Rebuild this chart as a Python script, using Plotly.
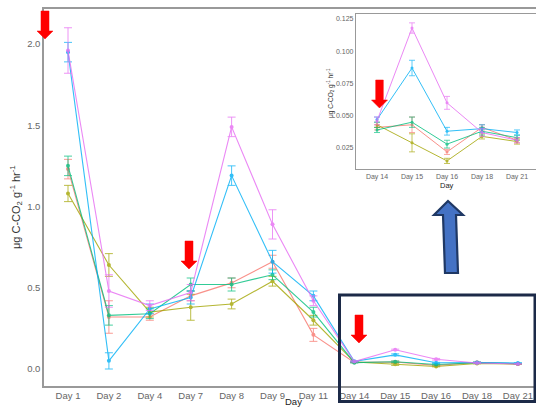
import plotly.graph_objects as go

W, H = 536, 407

days = ["Day 1", "Day 2", "Day 4", "Day 7", "Day 8", "Day 9", "Day 11",
        "Day 14", "Day 15", "Day 16", "Day 18", "Day 21"]

red_vals = [1.23, 0.32, 0.32, 0.45, 0.53, 0.66, 0.21, 0.041, 0.043, 0.022, 0.041, 0.031]
olive_vals = [1.08, 0.64, 0.35, 0.38, 0.40, 0.54, 0.30, 0.043, 0.029, 0.015, 0.034, 0.030]
green_vals = [1.25, 0.33, 0.34, 0.52, 0.52, 0.58, 0.35, 0.039, 0.045, 0.028, 0.038, 0.033]
blue_vals = [1.95, 0.05, 0.37, 0.44, 1.19, 0.66, 0.45, 0.047, 0.087, 0.038, 0.040, 0.037]
pink_vals = [1.96, 0.48, 0.39, 0.47, 1.49, 0.89, 0.42, 0.046, 0.118, 0.060, 0.037, 0.031]

red_err = [0.06, 0.10, 0.02, 0.03, 0.03, 0.04, 0.04, 0.002, 0.006, 0.002, 0.002, 0.002]
olive_err = [0.05, 0.07, 0.03, 0.08, 0.03, 0.03, 0.03, 0.002, 0.007, 0.002, 0.002, 0.002]
green_err = [0.06, 0.06, 0.03, 0.04, 0.04, 0.03, 0.03, 0.002, 0.004, 0.003, 0.003, 0.002]
blue_err = [0.06, 0.05, 0.03, 0.04, 0.06, 0.07, 0.03, 0.002, 0.006, 0.003, 0.003, 0.002]
pink_err = [0.14, 0.10, 0.03, 0.05, 0.06, 0.09, 0.03, 0.003, 0.004, 0.005, 0.003, 0.002]

series = [
    ("red", red_vals, red_err, "#F8766D"),
    ("olive", olive_vals, olive_err, "#A3A500"),
    ("green", green_vals, green_err, "#00BF7D"),
    ("blue", blue_vals, blue_err, "#00B0F6"),
    ("pink", pink_vals, pink_err, "#E76BF3"),
]

inset_start = days.index("Day 14")

fig = go.Figure()
for name, vals, err, col in series:
    fig.add_trace(go.Scatter(
        x=days, y=vals, mode="lines+markers", name=name,
        line=dict(color=col, width=1.1), marker=dict(color=col, size=4),
        error_y=dict(type="data", array=err, color=col, thickness=0.9, width=4),
        opacity=0.8, xaxis="x", yaxis="y", showlegend=False))
for name, vals, err, col in series:
    fig.add_trace(go.Scatter(
        x=days[inset_start:], y=vals[inset_start:], mode="lines+markers", name=name,
        line=dict(color=col, width=1.0), marker=dict(color=col, size=3),
        error_y=dict(type="data", array=err[inset_start:], color=col, thickness=0.8, width=3),
        opacity=0.8, xaxis="x2", yaxis="y2", showlegend=False))


def px(x):
    return x / W


def py(y):
    return 1 - y / H


# main axes geometry (pixels)
m_left, m_right, m_top, m_bot = 44, 536, 9, 386
m_x0, m_dx = 68, 40.9
m_y0, m_dy = 369, 162.5
# inset geometry
i_left, i_right, i_top, i_bot = 356, 536, 14, 169
i_x0, i_dx = 377, 35.0
i_y0, i_val0, i_dy = 148, 0.025, 1290.0

tickfont = dict(family="Liberation Sans, Arial", size=9.5, color="#666666")
tickfont_s = dict(family="Liberation Sans, Arial", size=7, color="#666666")

fig.update_layout(
    width=W, height=H, margin=dict(l=0, r=0, t=0, b=0, pad=0),
    paper_bgcolor="white", plot_bgcolor="white",
    xaxis=dict(domain=[px(m_left), px(m_right)],
               range=[(m_left - m_x0) / m_dx, (m_right - m_x0) / m_dx],
               showgrid=False, zeroline=False, showline=True, linecolor="#999999",
               linewidth=1.5, mirror=True, ticks="", tickfont=tickfont,
               categoryorder="array", categoryarray=days, automargin=False),
    yaxis=dict(domain=[py(m_bot), py(m_top)],
               range=[-(m_bot - m_y0) / m_dy, (m_y0 - m_top) / m_dy],
               showgrid=False, zeroline=False, showline=True, linecolor="#999999",
               linewidth=1.5, ticks="", tickfont=tickfont,
               tickvals=[0, 0.5, 1.0, 1.5, 2.0], ticktext=["0.0", "0.5", "1.0", "1.5", "2.0"],
               automargin=False),
    xaxis2=dict(domain=[px(i_left), px(i_right)],
                range=[(i_left - i_x0) / i_dx, (i_right - i_x0) / i_dx],
                showgrid=False, zeroline=False, showline=True, linecolor="#999999",
                linewidth=1.2, mirror=True, ticks="", tickfont=tickfont_s,
                categoryorder="array", categoryarray=days[inset_start:],
                anchor="y2", automargin=False),
    yaxis2=dict(domain=[py(i_bot), py(i_top)],
                range=[i_val0 - (i_bot - i_y0) / i_dy, i_val0 + (i_y0 - i_top) / i_dy],
                showgrid=False, zeroline=False, showline=True, linecolor="#999999",
                linewidth=1.2, ticks="", tickfont=tickfont_s,
                tickvals=[0.025, 0.05, 0.075, 0.1, 0.125],
                ticktext=["0.025", "0.050", "0.075", "0.100", "0.125"],
                anchor="x2", automargin=False),
)

ylab = "μg C-CO<sub>2</sub> g<sup>-1</sup> hr<sup>-1</sup>"
fig.add_annotation(x=px(16), y=py(207), xref="paper", yref="paper", text=ylab,
                   textangle=-90, showarrow=False, xanchor="center", yanchor="middle",
                   font=dict(family="Liberation Sans, Arial", size=11, color="#333333"))
fig.add_annotation(x=px(293), y=py(401.5), xref="paper", yref="paper", text="Day",
                   showarrow=False, xanchor="center", yanchor="middle",
                   font=dict(family="Liberation Sans, Arial", size=9.5, color="#222222"))
fig.add_annotation(x=px(331), y=py(93), xref="paper", yref="paper", text=ylab,
                   textangle=-90, showarrow=False, xanchor="center", yanchor="middle",
                   font=dict(family="Liberation Sans, Arial", size=6.5, color="#333333"))
fig.add_annotation(x=px(447), y=py(185), xref="paper", yref="paper", text="Day",
                   showarrow=False, xanchor="center", yanchor="middle",
                   font=dict(family="Liberation Sans, Arial", size=7.5, color="#222222"))


def path(points):
    s = "M " + " L ".join(f"{px(x):.5f},{py(y):.5f}" for x, y in points) + " Z"
    return s


def down_arrow(cx, top, head_y, tip_y, shaft_half, head_half):
    return [(cx - shaft_half, top), (cx + shaft_half, top), (cx + shaft_half, head_y),
            (cx + head_half, head_y), (cx, tip_y), (cx - head_half, head_y),
            (cx - shaft_half, head_y)]


red_arrows = [
    down_arrow(45, 11, 31, 39, 4, 8),
    down_arrow(189, 241, 261, 269, 4, 8),
    down_arrow(359, 315, 335, 343, 4, 8),
    down_arrow(379.5, 80, 100, 108, 3.8, 8),
]
for a in red_arrows:
    fig.add_shape(type="path", path=path(a), xref="paper", yref="paper",
                  fillcolor="#FF0000", line=dict(color="#FF0000", width=0.5))

blue_arrow = [(448, 201), (463, 215), (456, 215), (458, 273), (445, 273),
              (443, 215), (434, 215)]
fig.add_shape(type="path", path=path(blue_arrow), xref="paper", yref="paper",
              fillcolor="#4472C4", line=dict(color="#1F3864", width=2.2))

fig.add_shape(type="rect", xref="paper", yref="paper",
              x0=px(339.5), x1=px(535), y0=py(401.5), y1=py(295),
              line=dict(color="#1C2A48", width=3), fillcolor="rgba(0,0,0,0)")

fig.write_html("out.html", config={"displayModeBar": False},
               post_script="document.body.style.margin='0';document.body.style.overflow='hidden';")
